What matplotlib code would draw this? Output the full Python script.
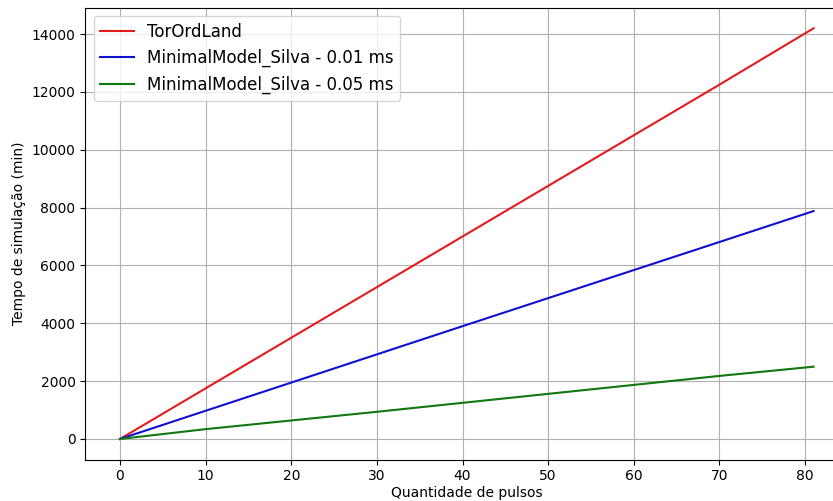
import matplotlib
matplotlib.use("Agg")
import matplotlib.pyplot as plt

pulsos = [0, 10, 20, 30, 40, 50, 60, 70, 81]
tordland = [0, 1750, 3500, 5250, 7000, 8750, 10500, 12250, 14200]
silva_001 = [0, 975, 1950, 2925, 3900, 4870, 5840, 6810, 7880]
silva_005 = [0, 340, 640, 940, 1250, 1560, 1870, 2180, 2500]

fig = plt.figure(figsize=(8.33, 5.01), dpi=100)
ax = fig.add_axes([0.1024, 0.0828, 0.916, 0.9018])

ax.plot(pulsos, tordland, color="#e41a1c", lw=1.5, label="TorOrdLand")
ax.plot(pulsos, silva_001, color="#1010d0", lw=1.5, label="MinimalModel_Silva - 0.01 ms")
ax.plot(pulsos, silva_005, color="#117711", lw=1.5, label="MinimalModel_Silva - 0.05 ms")

ax.set_xticks(range(0, 81, 10))
ax.set_yticks(range(0, 14001, 2000))
ax.tick_params(labelsize=10)
ax.set_xlabel("Quantidade de pulsos", fontsize=10, labelpad=2)
ax.set_ylabel("Tempo de simulação (min)", fontsize=10)
ax.grid(True, color="#b0b0b0", lw=0.8)
ax.legend(loc="upper left", fontsize=12)

fig.savefig("out.png", dpi=100)
